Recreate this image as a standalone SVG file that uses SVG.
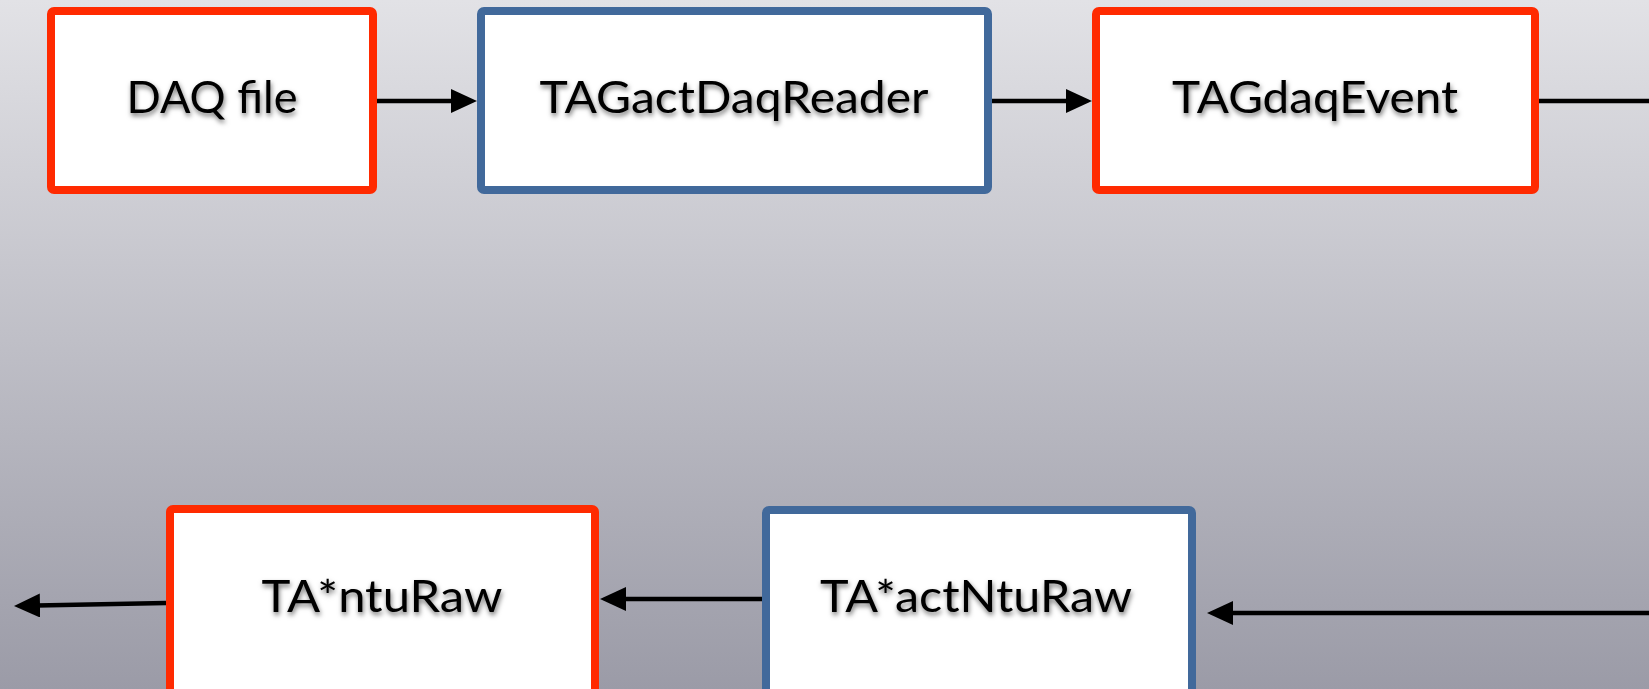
<svg xmlns="http://www.w3.org/2000/svg" width="1649" height="689" viewBox="0 0 1649 689">
  <defs>
    <linearGradient id="bg" x1="0" y1="0" x2="0" y2="1">
      <stop offset="0" stop-color="#E2E2E6"/>
      <stop offset="1" stop-color="#9B9BA7"/>
    </linearGradient>
    <filter id="textShadow" x="-10%" y="-30%" width="120%" height="170%">
      <feGaussianBlur in="SourceAlpha" stdDeviation="2.6"/>
      <feOffset dx="1" dy="3" result="blur"/>
      <feFlood flood-color="#000" flood-opacity="0.55"/>
      <feComposite in2="blur" operator="in" result="shadow"/>
      <feMerge>
        <feMergeNode in="shadow"/>
        <feMergeNode in="SourceGraphic"/>
      </feMerge>
    </filter>
    <marker id="arrow" markerUnits="userSpaceOnUse" markerWidth="26" markerHeight="24" refX="16" refY="12" orient="auto">
      <path d="M0,0 L26,12 L0,24 Z" fill="#000"/>
    </marker>
  </defs>
  <style>
    .data rect { fill: #FFFFFF; stroke: #FF2A00; stroke-width: 8; }
    .action rect { fill: #FFFFFF; stroke: #41699B; stroke-width: 8; }
    .label { font-family: Lato, "Liberation Sans", sans-serif; font-size: 45px; fill: #000; filter: url(#textShadow); }
    .link { stroke: #000; stroke-width: 4.5; fill: none; }
    .link.tip { marker-end: url(#arrow); }
  </style>

  <!-- backdrop -->
  <rect x="0" y="0" width="1649" height="689" fill="url(#bg)"/>

  <!-- connectors -->
  <g id="connectors">
    <path class="link tip" d="M377,101 L467,101"/>
    <path class="link tip" d="M992,101 L1082,101"/>
    <path class="link" d="M1539,101 L1649,101"/>
    <path class="link tip" d="M1649,613 L1217,613"/>
    <path class="link tip" d="M762,599 L610,599"/>
    <path class="link tip" d="M166,603 L24,605.8"/>
  </g>

  <!-- top row -->
  <g id="daq-file" class="data">
    <rect x="51" y="11" width="322" height="179" rx="3"/>
    <text class="label" x="212" y="113" text-anchor="middle" textLength="171" lengthAdjust="spacingAndGlyphs">DAQ file</text>
  </g>
  <g id="tag-act-daq-reader" class="action">
    <rect x="481" y="11" width="507" height="179" rx="3"/>
    <text class="label" x="734" y="113" text-anchor="middle" textLength="389" lengthAdjust="spacingAndGlyphs">TAGactDaqReader</text>
  </g>
  <g id="tag-daq-event" class="data">
    <rect x="1096" y="11" width="439" height="179" rx="3"/>
    <text class="label" x="1315" y="113" text-anchor="middle" textLength="286" lengthAdjust="spacingAndGlyphs">TAGdaqEvent</text>
  </g>

  <!-- bottom row -->
  <g id="ta-nturaw" class="data">
    <rect x="170" y="509" width="425" height="200" rx="3"/>
    <text class="label" x="382" y="612" text-anchor="middle" textLength="241" lengthAdjust="spacingAndGlyphs">TA*ntuRaw</text>
  </g>
  <g id="ta-act-nturaw" class="action">
    <rect x="766" y="510" width="426" height="200" rx="3"/>
    <text class="label" x="976" y="612" text-anchor="middle" textLength="312" lengthAdjust="spacingAndGlyphs">TA*actNtuRaw</text>
  </g>
</svg>
